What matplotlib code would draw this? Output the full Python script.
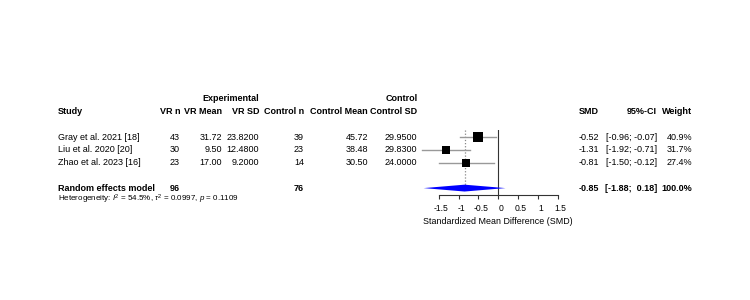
import matplotlib
matplotlib.use("Agg")
import matplotlib.pyplot as plt
import matplotlib.transforms as mtransforms
import numpy as np

plt.rcParams['font.family'] = ['Liberation Sans', 'DejaVu Sans']
plt.rcParams['mathtext.fontset'] = 'custom'
plt.rcParams['mathtext.rm'] = 'Liberation Sans'
plt.rcParams['mathtext.it'] = 'Liberation Sans:italic'
plt.rcParams['axes.unicode_minus'] = False

# ---- data ----
studies = ["Gray et al. 2021 [18]", "Liu et al. 2020 [20]", "Zhao et al. 2023 [16]"]
vr_n = [43, 30, 23]
vr_mean = [31.72, 9.50, 17.00]
vr_sd = [23.82, 12.48, 9.20]
ctrl_n = [39, 23, 14]
ctrl_mean = [45.72, 38.48, 30.50]
ctrl_sd = [29.95, 29.83, 24.00]
smd = [-0.52, -1.31, -0.81]
ci_lo = [-0.96, -1.92, -1.50]
ci_hi = [-0.07, -0.71, -0.12]
weight = [40.9, 31.7, 27.4]
pooled_label = "Random effects model"
pooled_vr_n = 96
pooled_ctrl_n = 76
pooled_smd = -0.85
pooled_lo = -1.88
pooled_hi = 0.18
pooled_weight = 100.0
het_I2 = 54.5
het_tau2 = 0.0997
het_p = 0.1109
xticks = [-1.5, -1, -0.5, 0, 0.5, 1, 1.5]
xlabel = "Standardized Mean Difference (SMD)"

W, H = 750, 300
fig = plt.figure(figsize=(7.5, 3), dpi=100)
fig.patch.set_facecolor('white')

# text layer in pixel coordinates
axt = fig.add_axes([0, 0, 1, 1])
axt.set_xlim(0, W)
axt.set_ylim(H, 0)
axt.axis('off')

fs = 6.45
row_y0 = 137.3
row_dy = 12.7
def ry(r):
    return row_y0 + row_dy * r

col_study = 58
cols_r = [180, 221.7, 259, 304, 368, 417.5]
col_smd, col_ci, col_w = 599, 657, 692

def t(x, y, s, ha='right', bold=False, size=fs):
    axt.text(x, y, s, ha=ha, va='center', fontsize=size,
             fontweight='bold' if bold else 'normal', color='black')

# headers
t(cols_r[2], ry(-3.05), "Experimental", bold=True)
t(cols_r[5], ry(-3.05), "Control", bold=True)
t(col_study, ry(-2), "Study", ha='left', bold=True)
for x, h in zip(cols_r, ["VR n", "VR Mean", "VR SD", "Control n", "Control Mean", "Control SD"]):
    t(x, ry(-2), h, bold=True)
t(col_smd, ry(-2), "SMD", bold=True)
t(col_ci, ry(-2), "95%-CI", bold=True)
t(col_w, ry(-2), "Weight", bold=True)

for i, s in enumerate(studies):
    y = ry(i)
    t(col_study, y, s, ha='left')
    t(cols_r[0], y, f"{vr_n[i]}")
    t(cols_r[1], y, f"{vr_mean[i]:.2f}")
    t(cols_r[2], y, f"{vr_sd[i]:.4f}")
    t(cols_r[3], y, f"{ctrl_n[i]}")
    t(cols_r[4], y, f"{ctrl_mean[i]:.2f}")
    t(cols_r[5], y, f"{ctrl_sd[i]:.4f}")
    t(col_smd, y, f"{smd[i]:.2f}")
    t(col_ci, y, f"[{ci_lo[i]:5.2f}; {ci_hi[i]:5.2f}]")
    t(col_w, y, f"{weight[i]:.1f}%")

yp = ry(4)
t(col_study, yp, pooled_label, ha='left', bold=True)
t(cols_r[0], yp, f"{pooled_vr_n}", bold=True)
t(cols_r[3], yp, f"{pooled_ctrl_n}", bold=True)
t(col_smd, yp, f"{pooled_smd:.2f}", bold=True)
t(col_ci, yp, f"[{pooled_lo:5.2f}; {pooled_hi:5.2f}]", bold=True)
t(col_w, yp, f"{pooled_weight:.1f}%", bold=True)

t(col_study, 199.5,
  rf"Heterogeneity: $\mathit{{I}}^2$ = {het_I2}%, $\tau^2$ = {het_tau2}, $\mathit{{p}}$ = {het_p}",
  ha='left', size=5.8)

# forest axes
px0 = 498.3
ppu = 39.7
xl_lo, xl_hi = -2.2, 2.2
left_px = px0 + xl_lo * ppu
right_px = px0 + xl_hi * ppu
top_row, bot_row = -0.58, 4.55
top_px, bot_px = ry(top_row), ry(bot_row)
ax = fig.add_axes([left_px / W, 1 - bot_px / H, (right_px - left_px) / W, (bot_px - top_px) / H])
ax.set_xlim(xl_lo, xl_hi)
ax.set_ylim(bot_row, top_row)
ax.patch.set_alpha(0)
for sp in ['top', 'right', 'left']:
    ax.spines[sp].set_visible(False)
ax.spines['bottom'].set_bounds(xticks[0], xticks[-1])
ax.spines['bottom'].set_linewidth(0.8)
ax.spines['bottom'].set_color('#333333')
ax.set_yticks([])
ax.set_xticks(xticks)
ax.set_xticklabels([f"{v:g}" for v in xticks], fontsize=6.2)
ax.tick_params(axis='x', direction='out', length=3.2, width=0.8, pad=3.5, colors='#333333', labelcolor='black')
shift = mtransforms.ScaledTranslation(2.5 / 100, 0, fig.dpi_scale_trans)
for lab in ax.get_xticklabels():
    lab.set_transform(lab.get_transform() + shift)
ax.set_xlabel(xlabel, fontsize=6.4, labelpad=2.5)

ax.axvline(0, color='#333333', lw=0.8, zorder=1)
ax.plot([pooled_smd, pooled_smd], [top_row, 4], color='#888888', lw=0.9, ls=(0, (1, 1.5)), zorder=1)

rows = np.arange(len(studies))
for i in rows:
    ax.plot([ci_lo[i], ci_hi[i]], [i, i], color='#999999', lw=1.0, zorder=2, clip_on=False)
    ms = 1.15 * np.sqrt(weight[i])
    ax.plot(smd[i], i, marker='s', color='black', ms=ms, mew=0, zorder=3, clip_on=False)

dh = 0.27
ax.fill([pooled_lo, pooled_smd, pooled_hi, pooled_smd],
        [4, 4 - dh, 4, 4 + dh], color='#0000FF', lw=0, zorder=3, clip_on=False)

fig.savefig("out.png", dpi=100, facecolor='white')
